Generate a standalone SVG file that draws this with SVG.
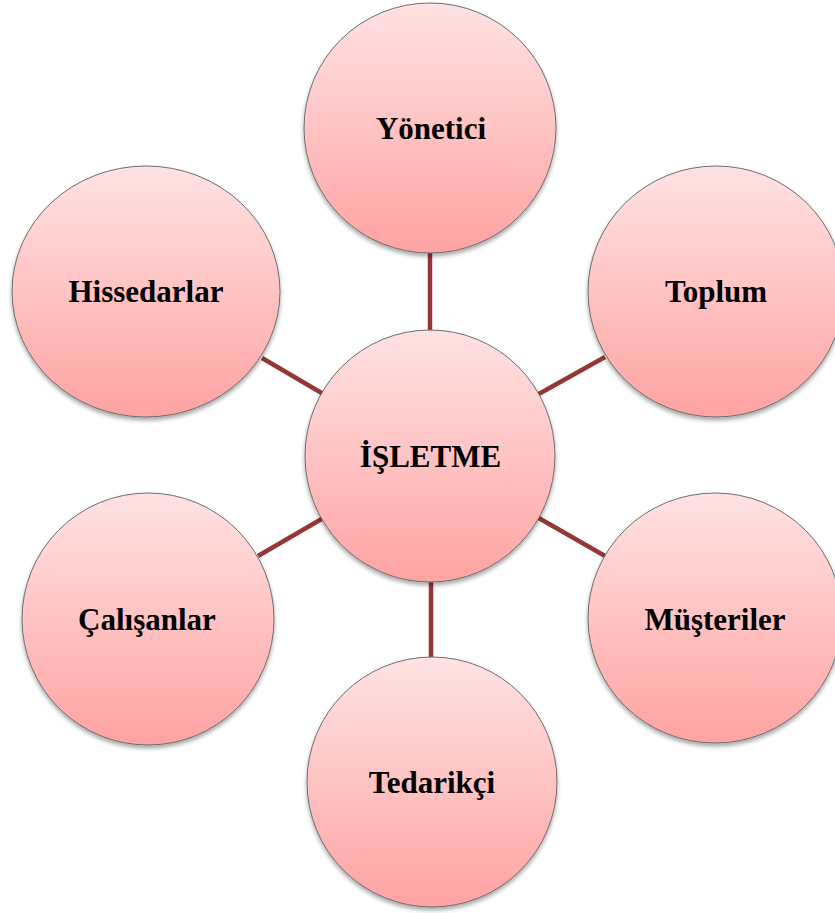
<svg xmlns="http://www.w3.org/2000/svg" width="835" height="913" viewBox="0 0 835 913">
<defs>
<linearGradient id="g" x1="0" y1="0" x2="0" y2="1">
<stop offset="0" stop-color="#FFE2E3"/>
<stop offset="0.5" stop-color="#FFC3C3"/>
<stop offset="1" stop-color="#FFA2A2"/>
</linearGradient>
<filter id="sh" x="-10%" y="-10%" width="120%" height="125%">
<feGaussianBlur in="SourceAlpha" stdDeviation="2"/>
<feOffset dx="0" dy="3" result="b"/>
<feComponentTransfer in="b" result="c"><feFuncA type="linear" slope="0.35"/></feComponentTransfer>
<feMerge><feMergeNode in="c"/><feMergeNode in="SourceGraphic"/></feMerge>
</filter>
</defs>
<style>
.n{fill:url(#g);stroke:#6e6e6e;stroke-width:1;filter:url(#sh)}
.t{font-family:"Liberation Serif","Times New Roman",serif;font-weight:bold;font-size:31px;fill:#000;text-anchor:middle}
.c{stroke:#953735;stroke-width:4.5;fill:none}
</style>
<rect width="835" height="913" fill="#fff"/>
<g id="connectors">
<line class="c" x1="430" y1="250" x2="430" y2="335"/>
<line class="c" x1="262" y1="358" x2="325" y2="395"/>
<line class="c" x1="605" y1="357" x2="537" y2="395"/>
<line class="c" x1="258" y1="556" x2="325" y2="517"/>
<line class="c" x1="605" y1="556" x2="537" y2="517"/>
<line class="c" x1="431" y1="578" x2="431" y2="660"/>
</g>
<g id="yonetici"><ellipse class="n" cx="430" cy="128" rx="126" ry="125"/><text class="t" x="431" y="138.5">Yönetici</text></g>
<g id="hissedarlar"><ellipse class="n" cx="146" cy="291.5" rx="134" ry="125.5"/><text class="t" x="146" y="302">Hissedarlar</text></g>
<g id="toplum"><ellipse class="n" cx="716" cy="291.5" rx="128" ry="125.5"/><text class="t" x="716" y="302">Toplum</text></g>
<g id="isletme"><ellipse class="n" cx="430" cy="456" rx="125" ry="126"/><text class="t" x="430.5" y="466.5">İŞLETME</text></g>
<g id="calisanlar"><ellipse class="n" cx="148" cy="619" rx="126" ry="126"/><text class="t" x="147" y="630">Çalışanlar</text></g>
<g id="musteriler"><ellipse class="n" cx="715" cy="618" rx="127" ry="125"/><text class="t" x="715" y="630">Müşteriler</text></g>
<g id="tedarikci"><ellipse class="n" cx="432" cy="782" rx="125" ry="125"/><text class="t" x="432" y="793">Tedarikçi</text></g>
</svg>
